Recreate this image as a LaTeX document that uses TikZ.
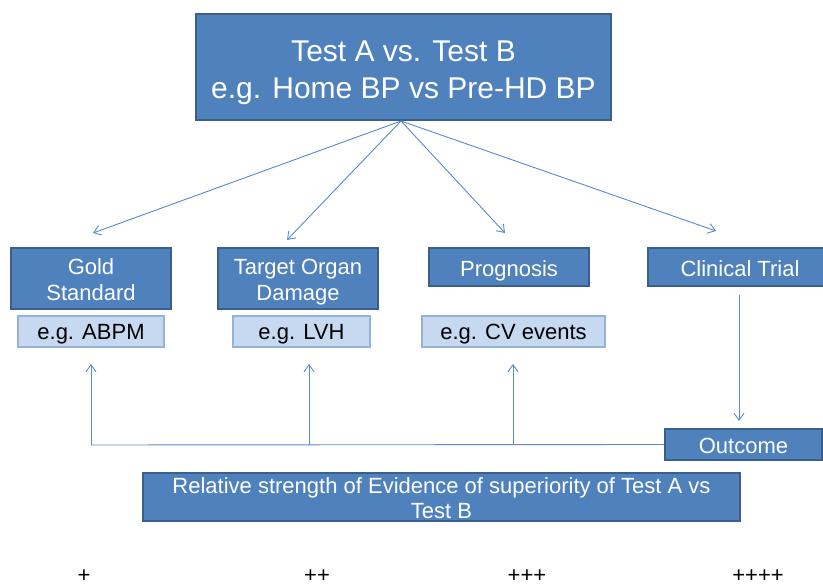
\documentclass[tikz,border=0pt]{standalone}
\usepackage{fontspec}
\setmainfont{Liberation Sans}
\usetikzlibrary{arrows.meta}
\definecolor{boxfill}{HTML}{4F81BD}
\definecolor{boxline}{HTML}{3A5F8C}
\definecolor{lightfill}{HTML}{C6D9F1}
\definecolor{lightline}{HTML}{95B3D7}
\definecolor{arrowcol}{HTML}{5A8ACB}
\newcommand{\boxtxt}[2][-4pt]{\raisebox{#1}[\height][\depth]{\begin{tabular}{@{}c@{}}#2\end{tabular}}}
\begin{document}
\begin{tikzpicture}[x=1pt,y=-1pt,
  bluebox/.style={draw=boxline, line width=2.4pt, fill=boxfill, text=white, inner sep=0pt, align=center,
    font=\fontsize{22}{26}\selectfont},
  lightbox/.style={draw=lightline, line width=2pt, fill=lightfill, text=black, inner sep=0pt,
    font=\fontsize{22}{26}\selectfont},
  conn/.style={draw=arrowcol, line width=0.9pt},
  arr/.style={conn, -{Straight Barb[length=7pt,width=10pt,line width=0.9pt]}},
  plus/.style={font=\fontsize{22}{26}\selectfont, text=black, inner sep=0pt}
]
\useasboundingbox (0,0) rectangle (823,588);

\node[bluebox, minimum width=415, minimum height=106, font=\fontsize{30}{37}\selectfont] (top) at (403.5,67) {\boxtxt[-5.5pt]{Test A vs. Test B\\e.g. Home BP vs Pre-HD BP}};

\node[bluebox, minimum width=160, minimum height=61] (gold) at (91,278.5) {\boxtxt{Gold\\Standard}};
\node[bluebox, minimum width=160, minimum height=61] (tod) at (298,278.5) {\boxtxt{Target Organ\\Damage}};
\node[bluebox, minimum width=160, minimum height=38] (prog) at (509,267) {\boxtxt{Prognosis}};
\node[bluebox, minimum width=184, minimum height=38] (clin) at (740,267) {\boxtxt{Clinical Trial}};

\node[lightbox, minimum width=146, minimum height=31] (abpm) at (91,331.5) {\boxtxt[-2.5pt]{e.g. ABPM}};
\node[lightbox, minimum width=137, minimum height=31] (lvh) at (301.5,331.5) {\boxtxt[-2.5pt]{e.g. LVH}};
\node[lightbox, minimum width=183, minimum height=31] (cv) at (513.5,331.5) {\boxtxt[-2.5pt]{e.g. CV events}};

\node[bluebox, minimum width=157, minimum height=31] (out) at (743.5,444.5) {\boxtxt{Outcome}};

\node[bluebox, minimum width=597, minimum height=48] (rel) at (441.5,497) {};
\node[text=white, align=center, inner sep=0pt, font=\fontsize{22}{25}\selectfont] (reltext) at (441.5,498.5) {Relative strength of Evidence of superiority of Test A vs\\Test B};

% arrows from top box
\coordinate (tgold) at (93,233);
\coordinate (ttod) at (287,240);
\coordinate (tprog) at (505,233);
\coordinate (tclin) at (716,231);
\coordinate (src) at (401,121);
\draw[arr] (src) -- (tgold);
\draw[arr] (src) -- (ttod);
\draw[arr] (src) -- (tprog);
\draw[arr] (src) -- (tclin);

% clinical trial to outcome
\coordinate (cs) at (739,295);
\coordinate (ce) at (739,421);
\draw[arr] (cs) -- (ce);

% bottom line and up arrows
\coordinate (l1) at (91,445);
\coordinate (l2) at (309,445);
\coordinate (l3) at (513,445);
\coordinate (u1) at (91,364);
\coordinate (u2) at (309,364);
\coordinate (u3) at (513,364);
\draw[conn] (l1) -- (out.west);
\draw[arr] (l1) -- (u1);
\draw[arr] (l2) -- (u2);
\draw[arr] (l3) -- (u3);

% plus signs
\node[plus] (p1) at (84,576) {+};
\node[plus] (p2) at (317,576) {++};
\node[plus] (p3) at (527,576) {+++};
\node[plus] (p4) at (758,576) {++++};
\end{tikzpicture}
\end{document}
